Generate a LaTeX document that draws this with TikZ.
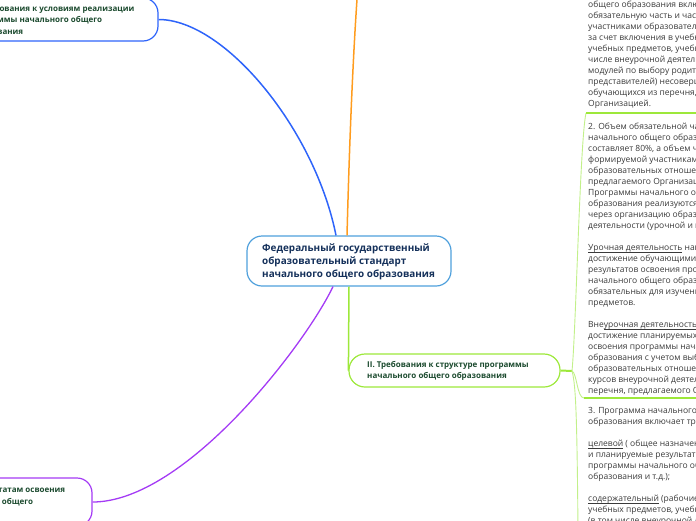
\documentclass[tikz,border=0pt]{standalone}
\usepackage{fontspec}
\setmainfont{Open Sans}
\definecolor{cblue}{HTML}{2E64FA}
\definecolor{corange}{HTML}{FF9C1E}
\definecolor{cpurple}{HTML}{A43BF5}
\definecolor{cgreen}{HTML}{9DE83A}
\definecolor{cgreenl}{HTML}{C2F08A}
\definecolor{cnodeblue}{HTML}{4FA0DC}
\definecolor{ctext}{HTML}{3A3A3A}
\definecolor{cdark}{HTML}{14305A}
\definecolor{cdgreen}{HTML}{1B4A2E}
\newcommand\txtlines[2]{\vtop{\baselineskip=#1\lineskiplimit=-20pt\halign{##\hfil\cr#2\crcr}}}
\newcommand\ulin[1]{\setbox0\hbox{#1}\rlap{\rule[-1.7pt]{\wd0}{0.6pt}}\box0{}}
\tikzset{
  topicbox/.style={draw, line width=1.2pt, rounded corners=15pt, inner sep=0pt},
  txt/.style={anchor=base west, inner sep=0pt, text=ctext, font=\fontsize{8.5}{11}\selectfont},
  toptxt/.style={anchor=base west, inner sep=0pt, text=cdgreen, font=\bfseries\fontsize{8}{11}\selectfont},
  conn/.style={line width=1.5pt},
  subconn/.style={line width=0.9pt, cgreenl},
  uline/.style={line width=1.8pt, cgreen}
}
\begin{document}
\begin{tikzpicture}[x=1pt,y=-1pt]
\useasboundingbox (0,0) rectangle (696,520);
% central
\node[topicbox, draw=cnodeblue, minimum width=204pt, minimum height=50pt] (c) at (349,261) {};
\node[anchor=base west, inner sep=0pt, text=cdark, font=\bfseries\fontsize{9.9}{13}\selectfont] (ct) at (262,251.5)
  {\txtlines{13pt}{Федеральный государственный\cr образовательный стандарт\cr начального общего образования}};
% top-left topic
\node[topicbox, draw=cblue, minimum width=218pt, minimum height=43pt] (tl) at (49,19.5) {};
\node[toptxt] (tlt) at (-32,11.5)
  {\txtlines{11.3pt}{III. Требования к условиям реализации\cr программы начального общего\cr образования}};
% bottom-left topic
\node[topicbox, draw=cpurple, minimum width=212pt, minimum height=48pt] (bl) at (-14,502) {};
\node[toptxt] (blt) at (-101,492.5)
  {\txtlines{12pt}{IV. Требования к результатам освоения\cr программы начального общего\cr образования}};
% section II
\node[topicbox, draw=cgreen, rounded corners=16pt, minimum width=211pt, minimum height=33pt] (s2) at (454.5,370.5) {};
\node[toptxt] (s2t) at (367,367.5)
  {\txtlines{11pt}{II. Требования к структуре программы\cr начального общего образования}};
% connectors from central topic
\coordinate (otop) at (358,-15);
\draw[conn, cblue] (tl.east) .. controls (225,19.5) and (315,130) .. ([xshift=-13pt]c.north);
\draw[conn, corange] ([xshift=-2pt]c.north) .. controls (350,120) and (354,40) .. (otop);
\draw[line width=1.3pt, cpurple] ([xshift=-16pt]c.south) .. controls (305,345) and (185,502) .. (bl.east);
\draw[conn, cgreen] (c.south) -- (s2.west);
% children of section II
\coordinate (j) at (572,371);
\coordinate (u1) at (586,113);
\coordinate (u2) at (584,398);
\coordinate (u3) at (578,530);
\draw[line width=2pt, cgreen] (s2.east) -- (j);
\draw[subconn] (j) .. controls (576,330) and (580,140) .. (u1);
\draw[subconn] (j) .. controls (577,373) and (577,398) .. (u2);
\draw[subconn] (j) .. controls (576,385) and (577,420) .. (u3);
\draw[uline] (u1) -- ++(120,0);
\draw[uline] (u2) -- ++(120,0);
% child texts
\node[txt] (k1) at (588,-3.5) {\txtlines{11pt}{1. Программа начального\cr
общего образования включает\cr
обязательную часть и часть, формируемую\cr
участниками образовательных отношений,\cr
за счет включения в учебные планы\cr
учебных предметов, учебных курсов (в том\cr
числе внеурочной деятельности), учебных\cr
модулей по выбору родителей (законных\cr
представителей) несовершеннолетних\cr
обучающихся из перечня, предлагаемого\cr
Организацией.}};
\node[txt] (k2) at (588,129.5) {\txtlines{11pt}{2. Объем обязательной части программы\cr
начального общего образования\cr
составляет 80\%, а объем части,\cr
формируемой участниками\cr
образовательных отношений, из перечня,\cr
предлагаемого Организацией, -- 20\%.\cr
Программы начального общего\cr
образования реализуются\cr
через организацию образовательной\cr
деятельности (урочной и внеурочной).\cr
\cr
\ulin{Урочная деятельность} направлена на\cr
достижение обучающимися планируемых\cr
результатов освоения программы\cr
начального общего образования с учетом\cr
обязательных для изучения учебных\cr
предметов.\cr
\cr
Вне\ulin{урочная деятельность} направлена на\cr
достижение планируемых результатов\cr
освоения программы начального общего\cr
образования с учетом выбора участниками\cr
образовательных отношений учебных\cr
курсов внеурочной деятельности из\cr
перечня, предлагаемого Организацией.}};
\node[txt] (k3) at (588,413.5) {\txtlines{11pt}{3. Программа начального общего\cr
образования включает три раздела:\cr
\cr
\ulin{целевой} ( общее назначение, цели, задачи\cr
и планируемые результаты реализации\cr
программы начального общего\cr
образования и т.д.);\cr
\cr
\ulin{содержательный} (рабочие программы\cr
учебных предметов, учебных курсов\cr
(в том числе внеурочной деятельности),}};
\end{tikzpicture}
\end{document}
